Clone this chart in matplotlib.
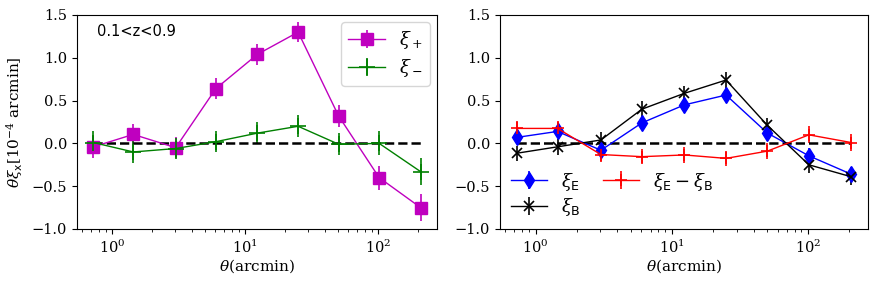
import matplotlib
matplotlib.use("Agg")
import matplotlib.pyplot as plt
import numpy as np

theta = [0.727, 1.45, 3.02, 6.05, 12.4, 25.1, 50.6, 102, 209]

xi_plus = [-0.04, 0.105, -0.05, 0.64, 1.04, 1.30, 0.32, -0.40, -0.75]
xi_plus_err = [0.13, 0.12, 0.12, 0.12, 0.12, 0.12, 0.13, 0.14, 0.16]
xi_minus = [0.01, -0.10, -0.06, 0.02, 0.12, 0.20, -0.01, 0.00, -0.33]
xi_minus_err = [0.13, 0.13, 0.12, 0.12, 0.13, 0.13, 0.13, 0.14, 0.16]

xi_E = [0.07, 0.14, -0.08, 0.24, 0.45, 0.565, 0.12, -0.145, -0.36]
xi_E_err = [0.08, 0.08, 0.08, 0.08, 0.08, 0.08, 0.08, 0.09, 0.09]
xi_B = [-0.115, -0.04, 0.04, 0.40, 0.585, 0.74, 0.21, -0.25, -0.39]
xi_B_err = [0.09, 0.09, 0.09, 0.09, 0.09, 0.09, 0.09, 0.1, 0.1]
xi_EmB = [0.175, 0.175, -0.13, -0.155, -0.135, -0.175, -0.09, 0.10, 0.01]
xi_EmB_err = [0.09, 0.09, 0.09, 0.09, 0.09, 0.09, 0.09, 0.1, 0.1]

yticks = [-1.0, -0.5, 0.0, 0.5, 1.0, 1.5]

plt.rcParams['font.family'] = 'DejaVu Serif'
plt.rcParams['mathtext.fontset'] = 'dejavuserif'

fig = plt.figure(figsize=(8.83, 2.84), dpi=100)
W, H = 883, 284
ax1 = fig.add_axes([77 / W, (H - 229) / H, 360 / W, 214 / H])
ax2 = fig.add_axes([500 / W, (H - 229) / H, 368 / W, 214 / H])

ax1.errorbar(theta, xi_plus, yerr=xi_plus_err, color='m', marker='s', ms=8,
             lw=1.0, elinewidth=1.2, label=r'$\xi_+$')
ax1.errorbar(theta, xi_minus, yerr=xi_minus_err, color='green', marker='+', ms=11,
             mew=1.2, lw=1.0, elinewidth=1.2, label=r'$\xi_-$')
ax1.plot([theta[0], theta[-1]], [0, 0], 'k--', lw=1.8)
ax1.text(0.055, 0.925, '0.1<z<0.9', transform=ax1.transAxes, fontsize=10.5,
         family='DejaVu Sans', va='center', ha='left')
ax1.legend(loc='upper right', fontsize=13, handlelength=2.0, labelspacing=0.3,
           borderaxespad=0.4)
ax1.set_ylabel(r'$\theta\xi_{\mathsf{x}}[10^{-4}\ {\rm arcmin}]$', fontsize=11,
               labelpad=5)

ax2.errorbar(theta, xi_E, yerr=xi_E_err, color='blue', marker='d', ms=8,
             lw=1.0, elinewidth=1.2, label=r'$\xi_{\mathsf{E}}$')
ax2.errorbar(theta, xi_B, yerr=xi_B_err, color='black', marker='x', ms=7,
             mew=1.2, lw=1.0, elinewidth=1.2, label=r'$\xi_{\mathsf{B}}$')
ax2.errorbar(theta, xi_EmB, yerr=xi_EmB_err, color='red', marker='+', ms=9,
             mew=1.2, lw=1.0, elinewidth=1.2, label=r'$\xi_{\mathsf{E}}-\xi_{\mathsf{B}}$')
ax2.plot([theta[0], theta[-1]], [0, 0], 'k--', lw=1.8)
ax2.legend(loc='lower left', ncol=2, frameon=False, fontsize=13,
           handlelength=2.0, columnspacing=1.2, labelspacing=0.2,
           borderaxespad=0.2)

for ax in (ax1, ax2):
    ax.set_xscale('log')
    ax.set_ylim(-1.0, 1.5)
    ax.set_yticks(yticks)
    ax.set_xlabel(r'$\theta$(arcmin)', fontsize=11, labelpad=1)
    ax.tick_params(labelsize=10.5)

fig.savefig('out.png', dpi=100)
